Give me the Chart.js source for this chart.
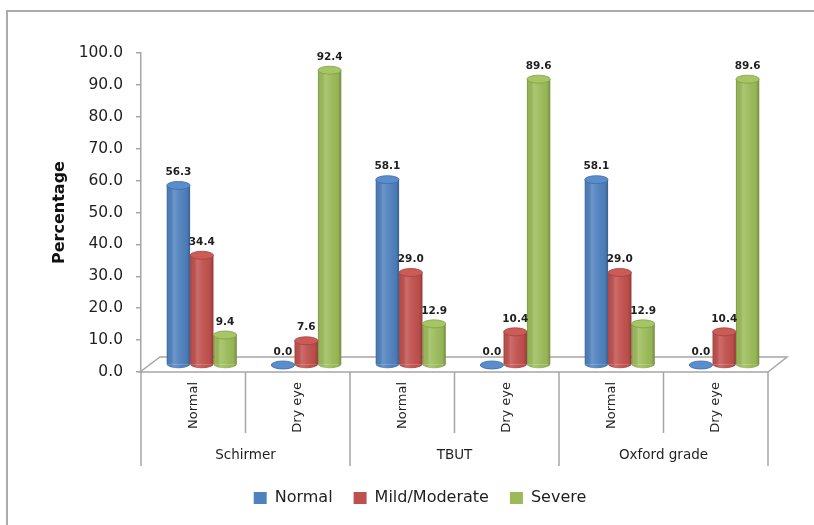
<!DOCTYPE html>
<html>
<head>
<meta charset="utf-8">
<script src="https://cdn.jsdelivr.net/npm/chart.js@4.4.1/dist/chart.umd.min.js"></script>
<style>
  html, body { margin: 0; padding: 0; background: #ffffff; }
  #wrap { width: 814px; height: 525px; }
</style>
</head>
<body>
<div id="wrap"><canvas id="chart" width="814" height="525"></canvas></div>
<script>
// Sub-categories along the x axis and the tests they belong to
const categories = ['Normal', 'Dry eye', 'Normal', 'Dry eye', 'Normal', 'Dry eye'];
const groups = ['Schirmer', 'TBUT', 'Oxford grade'];

// Series (percentages)
const seriesNames = ['Normal', 'Mild/Moderate', 'Severe'];
const normalValues = [56.3, 0.0, 58.1, 0.0, 58.1, 0.0];
const mildModerateValues = [34.4, 7.6, 29.0, 10.4, 29.0, 10.4];
const severeValues = [9.4, 92.4, 12.9, 89.6, 12.9, 89.6];

// Value axis ticks
const yTickValues = [0, 10, 20, 30, 40, 50, 60, 70, 80, 90, 100];

// Styling
const FONT = 'DejaVu Sans';
const TEXT = '#1f1f1f';
const AXIS_GREY = '#a6a6a6';
const seriesColors = ['#4F81BD', '#C0504D', '#9BBB59'];
const capColors = ['#5a8dcc', '#cc5b58', '#a6c665'];
const rimColors = ['#3f6ca3', '#a2423f', '#80a046'];

// pseudo-3D offsets: bars sit halfway back on the floor
const BAR_DX = 8.5, BAR_DY = -7;
const FLOOR_DX = 19, FLOOR_DY = -15;
const CAP_RY = 4;
const LEGEND_SHIFT_X = 36, LEGEND_SHIFT_Y = -9;

const seriesValues = [normalValues, mildModerateValues, severeValues];

const cylinderPlugin = {
  id: 'cylinders',
  afterLayout(chart) {
    // centre the legend row under the plot + floor
    const lg = chart.legend;
    if (lg) {
      lg.left += LEGEND_SHIFT_X;
      lg.right += LEGEND_SHIFT_X;
      lg.top += LEGEND_SHIFT_Y;
      lg.bottom += LEGEND_SHIFT_Y;
    }
  },
  beforeDraw(chart) {
    const ctx = chart.ctx;
    const a = chart.chartArea;
    ctx.save();
    // outer frame
    ctx.strokeStyle = '#ababab';
    ctx.lineWidth = 2;
    ctx.beginPath();
    ctx.moveTo(7, 525);
    ctx.lineTo(7, 11);
    ctx.lineTo(814, 11);
    ctx.stroke();
    // floor
    ctx.fillStyle = '#ffffff';
    ctx.strokeStyle = AXIS_GREY;
    ctx.lineWidth = 1.5;
    ctx.beginPath();
    ctx.moveTo(a.left - 1, a.bottom);
    ctx.lineTo(a.right, a.bottom);
    ctx.lineTo(a.right + FLOOR_DX, a.bottom + FLOOR_DY);
    ctx.lineTo(a.left + FLOOR_DX, a.bottom + FLOOR_DY);
    ctx.closePath();
    ctx.fill();
    ctx.stroke();
    // category dividers below the floor
    const n = categories.length;
    const w = (a.right - a.left) / n;
    ctx.beginPath();
    for (let i = 0; i <= n; i++) {
      const x = a.left + i * w;
      ctx.moveTo(x, a.bottom);
      ctx.lineTo(x, i % 2 === 0 ? 466 : 433);
    }
    ctx.stroke();
    ctx.restore();
  },
  beforeDatasetsDraw(chart) {
    chart.ctx.save();
    chart.ctx.translate(BAR_DX, BAR_DY);
  },
  afterDatasetsDraw(chart) {
    const ctx = chart.ctx;
    chart.data.datasets.forEach((ds, di) => {
      const meta = chart.getDatasetMeta(di);
      meta.data.forEach((bar, i) => {
        const { x, y, base, width } = bar.getProps(['x', 'y', 'base', 'width'], true);
        const left = x - width / 2;
        const rx = width / 2;
        // rounded bottom
        ctx.beginPath();
        ctx.ellipse(x, base, rx, CAP_RY, 0, 0, Math.PI);
        ctx.closePath();
        ctx.fillStyle = seriesColors[di];
        ctx.fill();
        // cylinder shading over body and bottom
        const g = ctx.createLinearGradient(left, 0, left + width, 0);
        g.addColorStop(0, 'rgba(0,0,0,0.2)');
        g.addColorStop(0.08, 'rgba(0,0,0,0.02)');
        g.addColorStop(0.3, 'rgba(255,255,255,0.17)');
        g.addColorStop(0.55, 'rgba(255,255,255,0.05)');
        g.addColorStop(0.86, 'rgba(0,0,0,0.04)');
        g.addColorStop(1, 'rgba(0,0,0,0.26)');
        ctx.fillStyle = g;
        ctx.beginPath();
        ctx.moveTo(left, y);
        ctx.lineTo(left, base);
        ctx.ellipse(x, base, rx, CAP_RY, 0, Math.PI, 0, true);
        ctx.lineTo(left + width, y);
        ctx.closePath();
        ctx.fill();
        // top cap
        ctx.beginPath();
        ctx.ellipse(x, y, rx, CAP_RY, 0, 0, Math.PI * 2);
        ctx.fillStyle = capColors[di];
        ctx.fill();
        ctx.strokeStyle = rimColors[di];
        ctx.lineWidth = 0.8;
        ctx.stroke();
        // value label
        ctx.fillStyle = TEXT;
        ctx.font = 'bold 10.5px "' + FONT + '"';
        ctx.textAlign = 'center';
        ctx.textBaseline = 'middle';
        ctx.fillText(seriesValues[di][i].toFixed(1), x, y - 13);
      });
    });
    ctx.restore();
  }
};

const datasets = seriesNames.map((name, k) => ({
  label: name,
  data: seriesValues[k],
  backgroundColor: seriesColors[k],
  borderWidth: 0,
  clip: false,
  categoryPercentage: 0.67,
  barPercentage: 1.0
}));

new Chart(document.getElementById('chart'), {
  type: 'bar',
  data: { labels: categories, datasets },
  plugins: [cylinderPlugin],
  options: {
    responsive: false,
    animation: false,
    devicePixelRatio: 1,
    layout: { padding: { left: 0, right: 46, top: 53, bottom: 0 } },
    plugins: {
      tooltip: { enabled: false },
      legend: {
        position: 'bottom',
        labels: {
          font: { family: FONT, size: 16 },
          color: TEXT,
          boxWidth: 13,
          boxHeight: 12,
          padding: 21
        }
      }
    },
    scales: {
      x: {
        type: 'category',
        weight: 0,
        grid: { display: false, drawTicks: false },
        border: { display: false },
        ticks: {
          autoSkip: false,
          minRotation: 90,
          maxRotation: 90,
          padding: 10,
          color: TEXT,
          font: { family: FONT, size: 13 }
        },
        afterFit(scale) { scale.height = 68; }
      },
      x2: {
        type: 'category',
        labels: groups,
        position: 'bottom',
        offset: true,
        weight: 1,
        grid: { display: false, drawTicks: false },
        border: { display: false },
        ticks: {
          autoSkip: false,
          maxRotation: 0,
          padding: 7,
          color: TEXT,
          font: { family: FONT, size: 13.5 }
        },
        afterFit(scale) {
          const lg = scale.chart.legend ? scale.chart.legend.height : 56;
          scale.height = 525 - lg - 372 - 68;
        }
      },
      y: {
        min: 0,
        max: 100,
        afterBuildTicks(scale) { scale.ticks = yTickValues.map(v => ({ value: v })); },
        grid: { display: true, drawOnChartArea: false, drawTicks: true, tickLength: 5, color: AXIS_GREY, lineWidth: 1.5 },
        border: { display: true, color: AXIS_GREY, width: 1.5 },
        ticks: {
          padding: 13,
          color: TEXT,
          font: { family: FONT, size: 15.5 },
          callback: v => Number(v).toFixed(1)
        },
        title: {
          display: true,
          text: 'Percentage',
          color: '#111111',
          font: { family: FONT, size: 16, weight: 'bold', lineHeight: 1.2 },
          padding: { top: 50, bottom: 0 }
        },
        afterFit(scale) { scale.width = 141; }
      }
    }
  }
});
</script>
</body>
</html>
